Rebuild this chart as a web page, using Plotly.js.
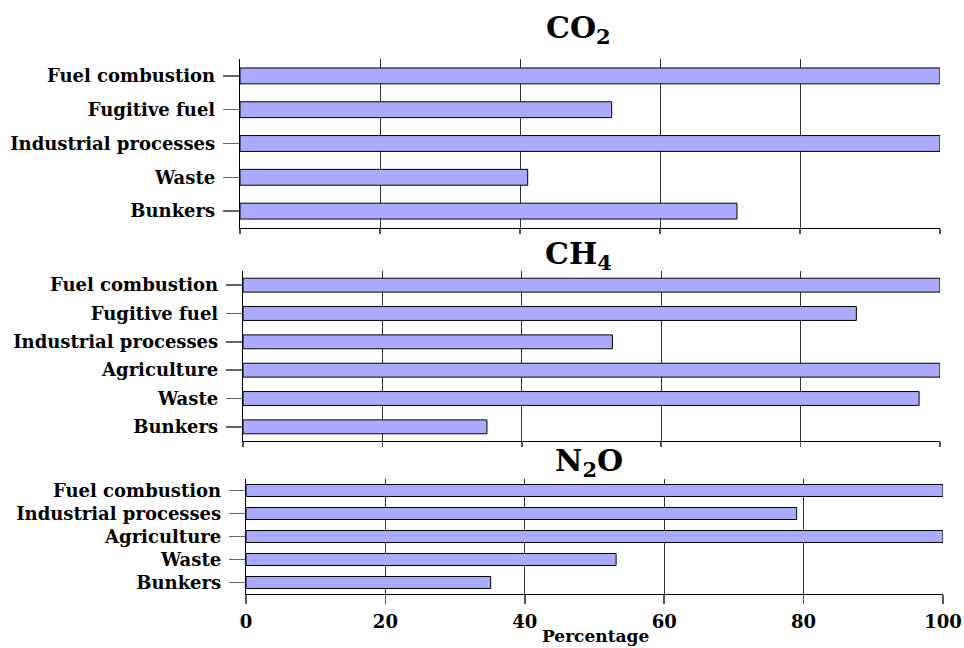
<!DOCTYPE html>
<html>
<head>
<meta charset="utf-8">
<script src="https://cdn.plot.ly/plotly-3.0.1.min.js"></script>
<style>html,body{margin:0;padding:0;background:#fff;}#chart{width:964px;height:648px;}</style>
</head>
<body>
<div id="chart"></div>
<script>
const co2Categories = ["Fuel combustion", "Fugitive fuel", "Industrial processes", "Waste", "Bunkers"];
const co2Values = [100, 53.1, 100, 41.1, 71.0];

const ch4Categories = ["Fuel combustion", "Fugitive fuel", "Industrial processes", "Agriculture", "Waste", "Bunkers"];
const ch4Values = [100, 88.0, 53.0, 100, 97.0, 35.0];

const n2oCategories = ["Fuel combustion", "Industrial processes", "Agriculture", "Waste", "Bunkers"];
const n2oValues = [100, 79.0, 100, 53.1, 35.1];

const panelTitles = ["CO<sub>2</sub>", "CH<sub>4</sub>", "N<sub>2</sub>O"];
const xTickVals = [0, 20, 40, 60, 80, 100];
const xTitle = "Percentage";

const W = 964, H = 648;
const FONT = "DejaVu Serif, Liberation Serif, serif";
const barColor = "#aaaaff";

function bar(cats, vals, xa, ya, width) {
  return {
    type: "bar", orientation: "h", x: vals, y: cats,
    xaxis: xa, yaxis: ya, width: width,
    marker: {color: barColor, line: {color: "#000", width: 1}},
    hoverinfo: "x+y", showlegend: false
  };
}

const data = [
  bar(co2Categories, co2Values, "x", "y", 0.47),
  bar(ch4Categories, ch4Values, "x2", "y2", 0.49),
  bar(n2oCategories, n2oValues, "x3", "y3", 0.52)
];

function xax(x0, x1, showLabels, ticklen, anchor) {
  return {
    domain: [x0 / W, x1 / W], range: [0, 100], anchor: anchor,
    tickmode: "array", tickvals: xTickVals, showticklabels: showLabels,
    ticks: "outside", ticklen: ticklen, tickcolor: "#555", tickwidth: 1.5,
    showgrid: true, gridcolor: "#333", gridwidth: 1,
    showline: true, linecolor: "#000", linewidth: 1, zeroline: false,
    tickfont: {family: FONT, size: 18, color: "#000", weight: "bold"},
    ticklabelstandoff: 2,
    fixedrange: true
  };
}
function yax(y0, y1, n, anchor) {
  return {
    domain: [1 - y1 / H, 1 - y0 / H], anchor: anchor,
    type: "category", range: [n - 0.5, -0.5],
    ticks: "outside", ticklen: 16, tickcolor: "#666", tickwidth: 1.5,
    showgrid: false, showline: true, linecolor: "#000", linewidth: 1.2,
    tickfont: {family: FONT, size: 18, color: "#000", weight: "bold"},
    ticklabelstandoff: 4,
    fixedrange: true
  };
}

const titleFont = {family: FONT, size: 30, color: "#000", weight: "bold"};

const layout = {
  width: W, height: H,
  margin: {l: 0, r: 0, t: 0, b: 0},
  paper_bgcolor: "#fff", plot_bgcolor: "#fff",
  bargap: 0.5,
  xaxis: xax(240, 940, false, 5, "y"),
  yaxis: yax(59, 228, co2Categories.length, "x"),
  xaxis2: xax(243, 940, false, 5, "y2"),
  yaxis2: yax(271, 441, ch4Categories.length, "x2"),
  xaxis3: xax(246, 943, true, 9, "y3"),
  yaxis3: yax(479, 594, n2oCategories.length, "x3"),
  annotations: [
    {text: panelTitles[0], x: 578 / W, y: 1 - 30 / H, font: titleFont},
    {text: panelTitles[1], x: 578 / W, y: 1 - 255 / H, font: titleFont},
    {text: panelTitles[2], x: 589 / W, y: 1 - 463 / H, font: titleFont},
    {text: xTitle, x: 595 / W, y: 1 - 636 / H, font: {family: FONT, size: 17, color: "#000", weight: "bold"}}
  ].map(a => Object.assign(a, {
    xref: "paper", yref: "paper", showarrow: false, xanchor: "center", yanchor: "middle"
  }))
};

Plotly.newPlot("chart", data, layout, {displayModeBar: false, staticPlot: true});
</script>
</body>
</html>
